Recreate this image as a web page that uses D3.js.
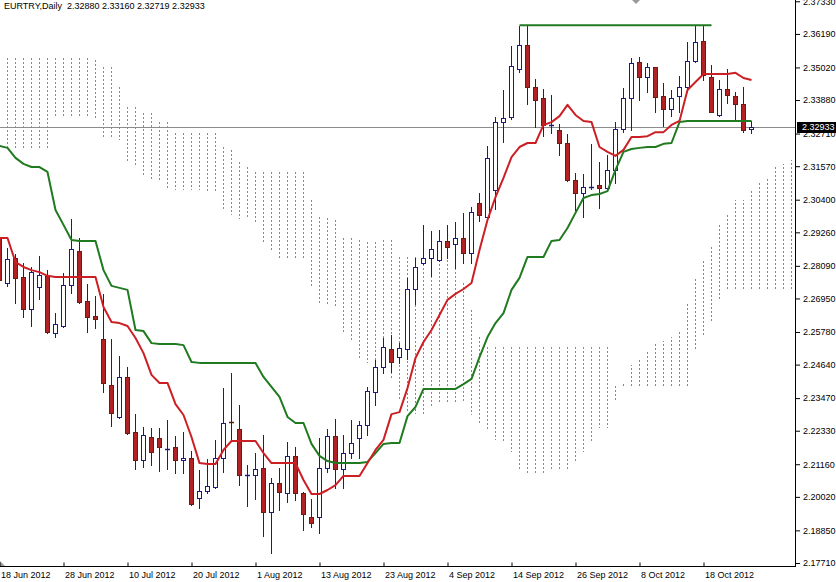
<!DOCTYPE html>
<html><head><meta charset="utf-8">
<script src="https://cdn.jsdelivr.net/npm/d3@7"></script>
<style>
html,body{margin:0;padding:0;background:#fff;}
svg{display:block;font-family:"Liberation Sans",Arial,sans-serif;}
</style></head><body>
<svg id="chart" width="836" height="582"></svg>
<script>
const chartTitle = "EURTRY,Daily  2.32880 2.33160 2.32719 2.32933";
const dateLabels = ["18 Jun 2012","28 Jun 2012","10 Jul 2012","20 Jul 2012","1 Aug 2012","13 Aug 2012","23 Aug 2012","4 Sep 2012","14 Sep 2012","26 Sep 2012","8 Oct 2012","18 Oct 2012"];
const dateLabelBars = [0,8,16,24,32,40,48,56,64,72,80,88];
const priceTicks = [2.37330,2.36190,2.35020,2.33880,2.32710,2.31570,2.30400,2.29260,2.28090,2.26950,2.25780,2.24640,2.23470,2.22330,2.21160,2.20020,2.18850,2.17710];
const lastPrice = 2.32933;
const resistanceLevel = 2.3649;
const resistanceFrom = 65, resistanceTo = 89;

const openP = [
2.2906,2.2749,2.2836,2.2770,2.2658,2.2735,2.2774,2.2574,2.2599,2.2742,
2.2861,2.2686,2.2634,2.2553,2.2393,2.2281,2.2421,2.2228,2.2131,2.2211,
2.2208,2.2169,2.2176,2.2131,2.2138,2.1998,2.2022,2.2036,2.2138,2.2262,
2.2239,2.2078,2.2078,2.2103,2.1949,2.2050,2.2015,2.2145,2.2015,2.1932,
2.1932,2.2103,2.2215,2.2099,2.2155,2.2208,2.2253,2.2368,2.2456,2.2518,
2.2490,2.2518,2.2728,2.2819,2.2836,2.2829,2.2896,2.2885,2.2906,2.2854,
2.3028,2.2980,2.3074,2.3311,2.3329,2.3496,2.3580,2.3434,2.3395,2.3301,
2.3283,2.3238,2.3109,2.3063,2.3084,2.3091,2.3081,2.3144,2.3287,2.3395,
2.3521,2.3469,2.3503,2.3402,2.3357,2.3402,2.3434,2.3524,2.3594,2.3469,
2.3336,2.3427,2.3402,2.3374,2.32880];
const highP = [
2.2917,2.2871,2.2850,2.2819,2.2805,2.2843,2.2794,2.2644,2.2784,2.2973,
2.2906,2.2746,2.2704,2.2711,2.2553,2.2494,2.2456,2.2291,2.2246,2.2242,
2.2242,2.2270,2.2215,2.2228,2.2162,2.2096,2.2134,2.2201,2.2382,2.2435,
2.2323,2.2113,2.2155,2.2218,2.2068,2.2103,2.2194,2.2176,2.2019,2.1995,
2.2208,2.2239,2.2274,2.2218,2.2270,2.2267,2.2386,2.2480,2.2557,2.2567,
2.2539,2.2767,2.2836,2.2952,2.2931,2.2934,2.2952,2.2962,2.2994,2.3014,
2.3063,2.3228,2.3329,2.3423,2.3577,2.3647,2.3647,2.3462,2.3427,2.3406,
2.3304,2.3269,2.3133,2.3130,2.3235,2.3172,2.3196,2.3311,2.3430,2.3535,
2.3538,2.3517,2.3505,2.3448,2.3423,2.3472,2.3591,2.3647,2.3647,2.3511,
2.3458,2.3496,2.3416,2.3434,2.33160];
const lowP = [
2.2742,2.2739,2.2679,2.2630,2.2599,2.2693,2.2574,2.2560,2.2597,2.2714,
2.2679,2.2578,2.2592,2.2368,2.2249,2.2279,2.2223,2.2099,2.2106,2.2113,
2.2092,2.2099,2.2085,2.2085,2.1974,2.1963,2.2015,2.2034,2.2089,2.2201,
2.2043,2.1970,2.1995,2.1865,2.1806,2.1956,2.1984,2.1991,2.1886,2.1897,
2.1876,2.2089,2.2033,2.2033,2.2138,2.2138,2.2218,2.2323,2.2435,2.2438,
2.2470,2.2484,2.2676,2.2815,2.2774,2.2827,2.2836,2.2801,2.2819,2.2819,
2.2966,2.2978,2.3008,2.3242,2.3322,2.3486,2.3374,2.3294,2.3262,2.3273,
2.3196,2.3105,2.3004,2.2980,2.3077,2.3011,2.3074,2.3098,2.3276,2.3283,
2.3388,2.3416,2.3346,2.3297,2.3332,2.3346,2.3416,2.3521,2.3458,2.3346,
2.3334,2.3378,2.3315,2.3276,2.32719];
const closeP = [
2.2760,2.2833,2.2767,2.2658,2.2787,2.2777,2.2578,2.2606,2.2742,2.2868,
2.2683,2.2630,2.2623,2.2400,2.2295,2.2421,2.2225,2.2131,2.2218,2.2159,
2.2176,2.2169,2.2131,2.2138,2.1977,2.2022,2.2040,2.2138,2.2260,2.2259,
2.2078,2.2078,2.2099,2.1949,2.2050,2.2019,2.2145,2.2015,2.1942,2.1911,
2.2103,2.2215,2.2099,2.2155,2.2190,2.2253,2.2372,2.2456,2.2525,2.2473,
2.2522,2.2728,2.2805,2.2836,2.2868,2.2896,2.2875,2.2906,2.2854,2.2997,
2.2987,2.3186,2.3311,2.3325,2.3507,2.3580,2.3434,2.3388,2.3301,2.3301,
2.3238,2.3109,2.3063,2.3084,2.3084,2.3081,2.3144,2.3287,2.3395,2.3517,
2.3469,2.3503,2.3399,2.3357,2.3395,2.3434,2.3524,2.3591,2.3476,2.3346,
2.3427,2.3406,2.3374,2.3283,2.32933];
const tenkan = [
2.2906,2.2906,2.2822,2.2805,2.2794,2.2787,2.2774,2.2770,2.2770,2.2770,
2.2770,2.2770,2.2770,2.2665,2.2613,2.2609,2.2599,2.2557,2.2504,2.2428,
2.2400,2.2400,2.2326,2.2288,2.2211,2.2120,2.2117,2.2117,2.2166,2.2197,
2.2197,2.2197,2.2197,2.2155,2.2120,2.2120,2.2120,2.2120,2.2061,2.2012,
2.2012,2.2026,2.2043,2.2075,2.2075,2.2075,2.2120,2.2166,2.2201,2.2291,
2.2298,2.2382,2.2487,2.2543,2.2585,2.2637,2.2690,2.2711,2.2728,2.2749,
2.2864,2.2969,2.3049,2.3116,2.3189,2.3224,2.3238,2.3238,2.3301,2.3311,
2.3332,2.3371,2.3336,2.3315,2.3311,2.3224,2.3207,2.3193,2.3214,2.3259,
2.3259,2.3262,2.3276,2.3276,2.3301,2.3315,2.3423,2.3451,2.3479,2.3479,
2.3479,2.3479,2.3483,2.3465,2.3458];
const kijun = [
2.3228,2.3221,2.3186,2.3165,2.3154,2.3154,2.3137,2.3004,2.2952,2.2899,
2.2896,2.2896,2.2896,2.2794,2.2739,2.2732,2.2725,2.2585,2.2581,2.2539,
2.2536,2.2536,2.2536,2.2532,2.2473,2.2470,2.2470,2.2470,2.2470,2.2470,
2.2470,2.2470,2.2470,2.2421,2.2386,2.2351,2.2281,2.2260,2.2260,2.2187,
2.2145,2.2127,2.2120,2.2120,2.2120,2.2120,2.2124,2.2155,2.2187,2.2190,
2.2190,2.2284,2.2316,2.2379,2.2379,2.2379,2.2379,2.2379,2.2396,2.2414,
2.2490,2.2560,2.2609,2.2644,2.2725,2.2767,2.2840,2.2840,2.2840,2.2896,
2.2899,2.2941,2.2994,2.3046,2.3056,2.3060,2.3070,2.3144,2.3207,2.3217,
2.3221,2.3224,2.3224,2.3235,2.3238,2.3311,2.3315,2.3315,2.3315,2.3315,
2.3315,2.3315,2.3315,2.3315,2.3315];
const senkouA = [
2.3214,2.3214,2.3214,2.3214,2.3214,2.3214,2.3214,2.3325,2.3325,2.3325,
2.3325,2.3325,2.3325,2.3259,2.3259,2.3249,2.3168,2.3161,2.3126,2.3109,
2.3109,2.3074,2.3074,2.3074,2.3074,2.3074,2.3067,2.3063,2.3004,2.2985,
2.2974,2.2971,2.2955,2.2887,2.2861,2.2835,2.2833,2.2833,2.2833,2.2730,
2.2676,2.2671,2.2662,2.2571,2.2543,2.2484,2.2468,2.2468,2.2430,2.2410,
2.2342,2.2295,2.2293,2.2293,2.2318,2.2333,2.2333,2.2333,2.2333,2.2288,
2.2253,2.2236,2.2201,2.2190,2.2160,2.2099,2.2078,2.2077,2.2082,2.2098,
2.2098,2.2098,2.2122,2.2160,2.2194,2.2241,2.2244,2.2333,2.2401,2.2461,
2.2482,2.2510,2.2536,2.2546,2.2562,2.2581,2.2677,2.2765,2.2829,2.2880,
2.2957,2.2995,2.3039,2.3039,2.3070,2.3104,2.3116,2.3156,2.3165,2.3180];
const senkouB = [
2.3535,2.3535,2.3535,2.3535,2.3535,2.3535,2.3535,2.3535,2.3535,2.3535,
2.3535,2.3535,2.3528,2.3503,2.3503,2.3434,2.3364,2.3364,2.3343,2.3343,
2.3311,2.3311,2.3273,2.3273,2.3273,2.3273,2.3273,2.3273,2.3224,2.3214,
2.3172,2.3154,2.3137,2.3137,2.3137,2.3137,2.3137,2.3137,2.3137,2.3039,
2.2980,2.2976,2.2969,2.2906,2.2906,2.2899,2.2892,2.2892,2.2899,2.2899,
2.2840,2.2840,2.2840,2.2829,2.2829,2.2829,2.2829,2.2829,2.2749,2.2655,
2.2560,2.2525,2.2525,2.2525,2.2525,2.2525,2.2525,2.2525,2.2525,2.2525,
2.2525,2.2525,2.2525,2.2525,2.2525,2.2525,2.2525,2.2390,2.2390,2.2390,
2.2390,2.2390,2.2390,2.2390,2.2390,2.2390,2.2390,2.2517,2.2568,2.2615,
2.2692,2.2727,2.2727,2.2727,2.2727,2.2727,2.2727,2.2727,2.2727,2.2727];

const W = 836, H = 582, plotW = 795, plotH = 566;
const svg = d3.select("#chart");
const x = d3.scaleLinear().domain([0, 1]).range([-0.5, 7.5]);
const y = d3.scaleLinear().domain([2.17710, 2.37330]).range([563, 1.29]);

svg.append("rect").attr("width", W).attr("height", H).attr("fill", "#fff");
svg.append("defs").append("clipPath").attr("id", "plotClip")
  .append("rect").attr("x", 0).attr("y", 0).attr("width", plotW).attr("height", plotH);
const plot = svg.append("g").attr("clip-path", "url(#plotClip)");

// Ichimoku cloud (dotted histogram between the two senkou spans)
plot.append("g").attr("shape-rendering", "crispEdges")
  .selectAll("line").data(d3.range(senkouA.length)).join("line")
  .attr("x1", i => x(i)).attr("x2", i => x(i))
  .attr("y1", i => Math.round(y(senkouB[i]))).attr("y2", i => Math.round(y(senkouA[i])))
  .attr("stroke", i => senkouA[i] >= senkouB[i] ? "#4a98c8" : "#d0743c")
  .attr("stroke-width", 1).attr("stroke-dasharray", "2,2");

// last price line
const yl = Math.round(y(lastPrice)) + 0.5;
plot.append("line").attr("x1", 0).attr("x2", plotW).attr("y1", yl).attr("y2", yl)
  .attr("stroke", "#8c8c8c").attr("stroke-width", 1);

// candles
const bars = d3.range(openP.length);
const cg = plot.append("g");
cg.selectAll("line.wick").data(bars).join("line").attr("class", "wick")
  .attr("x1", i => x(i)).attr("x2", i => x(i))
  .attr("y1", i => Math.round(y(highP[i]))).attr("y2", i => Math.round(y(lowP[i])) + 1)
  .attr("stroke", "#1c1c78").attr("stroke-width", 1);
bars.forEach(i => {
  const yo = y(openP[i]), yc = y(closeP[i]);
  const top = Math.round(Math.min(yo, yc)), bot = Math.round(Math.max(yo, yc));
  if (bot - top < 2) {
    cg.append("line").attr("x1", x(i) - 2.5).attr("x2", x(i) + 2.5)
      .attr("y1", top + 0.5).attr("y2", top + 0.5)
      .attr("stroke", closeP[i] >= openP[i] ? "#1c1c78" : "#5a1a10").attr("stroke-width", 1.5);
  } else {
    const bull = closeP[i] >= openP[i];
    cg.append("rect").attr("x", x(i) - 2).attr("width", 4)
      .attr("y", top + 0.5).attr("height", bot - top)
      .attr("fill", bull ? "#ffffff" : "#b22222")
      .attr("stroke", bull ? "#1c1c78" : "#6e1a14").attr("stroke-width", 1);
  }
});

// tenkan / kijun
const line = d3.line().x((d, i) => x(i)).y(d => y(d));
plot.append("path").datum(kijun).attr("d", line).attr("fill", "none")
  .attr("stroke", "#207a20").attr("stroke-width", 2).attr("stroke-linejoin", "round");
plot.append("path").datum(tenkan).attr("d", line).attr("fill", "none")
  .attr("stroke", "#cc1f24").attr("stroke-width", 2).attr("stroke-linejoin", "round");

// resistance line
plot.append("line").attr("x1", x(resistanceFrom)).attr("x2", x(resistanceTo))
  .attr("y1", y(resistanceLevel)).attr("y2", y(resistanceLevel))
  .attr("stroke", "#207a20").attr("stroke-width", 2);

// chart shift marker
plot.append("path").attr("d", "M632,0 L640,0 L636,4 Z").attr("fill", "#9a9a9a");
svg.append("path").attr("d", "M0,561 L0,566 L5,566 Z").attr("fill", "#9a9a9a");

// axes frame
svg.append("line").attr("x1", plotW + 0.5).attr("x2", plotW + 0.5).attr("y1", 0).attr("y2", plotH + 1)
  .attr("stroke", "#000");
svg.append("line").attr("x1", 0).attr("x2", plotW + 1).attr("y1", plotH + 0.5).attr("y2", plotH + 0.5)
  .attr("stroke", "#000");

// right price axis
const yAxis = d3.axisRight(y).tickValues(priceTicks).tickSize(4).tickPadding(3)
  .tickFormat(d3.format(".5f"));
const ya = svg.append("g").attr("transform", `translate(${plotW + 1},0)`).call(yAxis);
ya.select(".domain").remove();
ya.selectAll("text").attr("font-size", 9).attr("font-family", "Liberation Sans, Arial, sans-serif").attr("fill", "#000");
ya.selectAll(".tick line").attr("stroke", "#000");

// bottom date axis
const xAxis = d3.axisBottom(x).tickValues(dateLabelBars).tickSize(-4)
  .tickFormat((d, k) => dateLabels[k]);
const xa = svg.append("g").attr("transform", `translate(0,${plotH + 0.5})`).call(xAxis);
xa.select(".domain").remove();
xa.selectAll(".tick line").attr("stroke", "#000");
xa.selectAll("text").attr("font-size", 9).attr("font-family", "Liberation Sans, Arial, sans-serif")
  .attr("fill", "#000").attr("text-anchor", "start").attr("x", 1).attr("y", 5).attr("dy", "0.71em");

// last price label
svg.append("rect").attr("x", plotW + 2).attr("y", Math.round(y(lastPrice)) - 5).attr("width", W - plotW - 2).attr("height", 11).attr("fill", "#000");
svg.append("text").attr("x", plotW + 7).attr("y", y(lastPrice)).attr("dy", "0.35em")
  .attr("font-size", 9).attr("fill", "#fff").text(d3.format(".5f")(lastPrice));

// title
svg.append("text").attr("x", 4).attr("y", 9).attr("font-size", 9).attr("fill", "#000")
  .style("white-space", "pre").text(chartTitle);
</script>
</body></html>
